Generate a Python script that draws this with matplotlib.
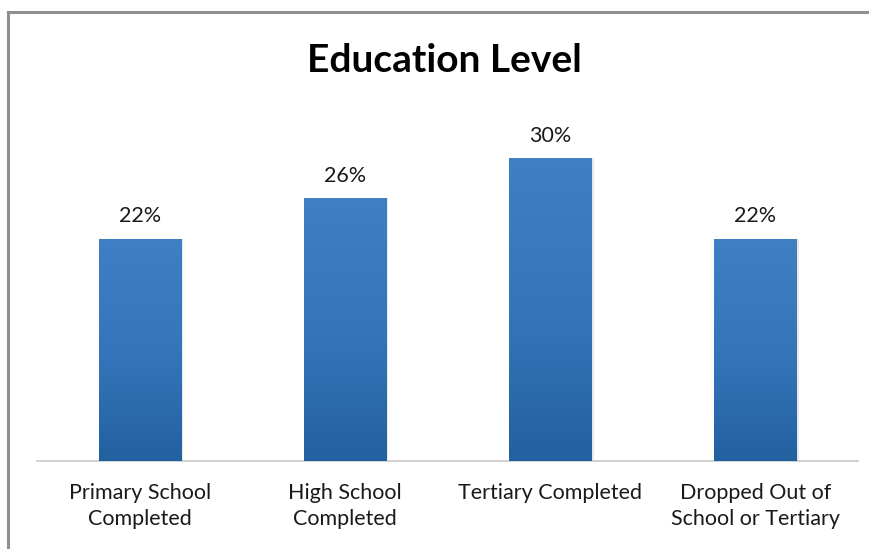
import numpy as np
import matplotlib.pyplot as plt
from matplotlib.lines import Line2D
from matplotlib.colors import LinearSegmentedColormap

# Education level shares (percent)
categories = ['Primary School\nCompleted', 'High School\nCompleted',
              'Tertiary Completed', 'Dropped Out of\nSchool or Tertiary']
shares = [22, 26, 30, 22]

W, H = 870, 549
fig = plt.figure(figsize=(W / 100, H / 100), dpi=100)
fig.patch.set_facecolor('white')

# axes placed in pixel terms: baseline at y=461, 10.1 px per percent
ymax = 35
ax_left, ax_right = 37, 858
ax_bottom = 461
ax_height = ymax * 10.1
ax = fig.add_axes([ax_left / W, (H - ax_bottom) / H,
                   (ax_right - ax_left) / W, ax_height / H])

x = np.arange(len(categories))
bars = ax.bar(x, shares, width=0.4, color='#3372b5', edgecolor='none', zorder=2)

# vertical gradient fill inside each bar
grad = LinearSegmentedColormap.from_list('bluegrad', ['#2360a0', '#3576bb', '#3f80c5'])
gy = np.linspace(0, 1, 256).reshape(-1, 1)
for b in bars:
    x0, w, h = b.get_x(), b.get_width(), b.get_height()
    # soft shadow to the right of the bar
    ax.bar(x0 + w / 2 + 0.012, h, width=w, color='#d9d9d9', edgecolor='none', zorder=1, alpha=0.6)
    im = ax.imshow(gy, cmap=grad, aspect='auto', origin='lower',
                   extent=[x0, x0 + w, 0, h], zorder=3)
    im.set_clip_path(b)

for xi, v in zip(x, shares):
    ax.annotate(f'{v}%', (xi, v), xytext=(0, 9), textcoords='offset points',
                ha='center', va='bottom', fontsize=15.5, family='Lato', color='#1a1a1a')

ax.set_xlim(-0.5, len(categories) - 0.5)
ax.set_ylim(0, ymax)
ax.set_xticks(x)
ax.set_xticklabels(categories, fontsize=15.5, family='Lato', color='#1a1a1a',
                   linespacing=1.38)
ax.tick_params(axis='x', length=0, pad=16)
ax.set_yticks([])
for s in ['top', 'right', 'left']:
    ax.spines[s].set_visible(False)
ax.spines['bottom'].set_color('#c8c8c8')
ax.spines['bottom'].set_linewidth(1.2)
ax.set_facecolor('none')

fig.text(444 / W, 1 - 60 / H, 'Education Level', ha='center', va='center',
         fontsize=28, fontweight='bold', family='Lato', color='black')

# chart frame (left and top edges)
fig.add_artist(Line2D([8 / W, 8 / W], [0, 1 - 12 / H], color='#8f8f8f', lw=2.2,
                      solid_capstyle='projecting'))
fig.add_artist(Line2D([8 / W, 1], [1 - 12 / H, 1 - 12 / H], color='#8f8f8f', lw=2.2,
                      solid_capstyle='projecting'))

fig.savefig('out.png', dpi=100)
